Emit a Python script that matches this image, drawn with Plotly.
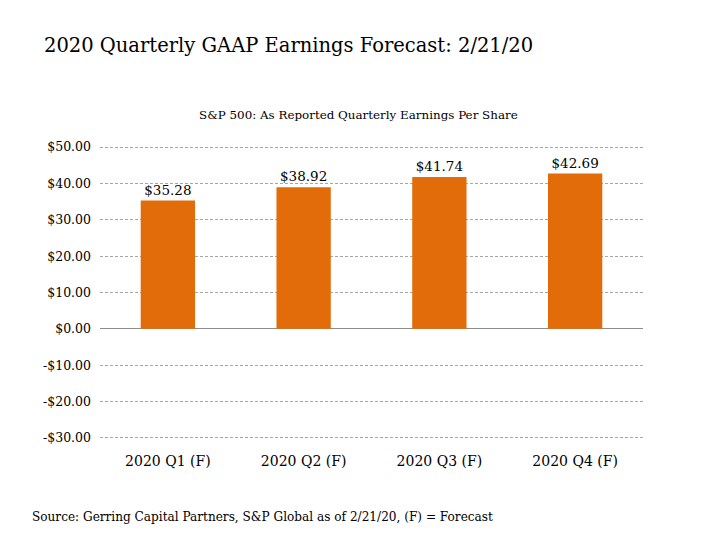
import plotly.graph_objects as go

categories = ["2020 Q1 (F)", "2020 Q2 (F)", "2020 Q3 (F)", "2020 Q4 (F)"]
eps = [35.28, 38.92, 41.74, 42.69]
tick_vals = [-30, -20, -10, 0, 10, 20, 30, 40, 50]
tick_text = ["-$30.00", "-$20.00", "-$10.00", "$0.00", "$10.00", "$20.00", "$30.00", "$40.00", "$50.00"]

FONT = "DejaVu Serif"
OFF = 8  # page body margin offset

L, R_EDGE, T, B_EDGE = 100 - OFF, 643 - OFF, 147 - OFF - 1, 438 - OFF + 1

fig = go.Figure(go.Bar(
    x=categories, y=eps,
    marker=dict(color="#E36C0A", line=dict(width=0)),
    width=0.4,
    text=[f"${v:.2f}" for v in eps],
    textposition="outside",
    textfont=dict(family=FONT, size=13.5, color="#000"),
    cliponaxis=False,
))

fig.update_layout(
    width=720, height=540,
    margin=dict(l=L, r=720 - R_EDGE, t=T, b=540 - B_EDGE),
    paper_bgcolor="white", plot_bgcolor="white",
    showlegend=False,
    font=dict(family=FONT, color="#000"),
    xaxis=dict(showgrid=False, showline=False, ticks="", tickfont=dict(size=14, family=FONT),
               ticklabelstandoff=12),
    yaxis=dict(range=[-30.28, 50.28], tickvals=tick_vals, ticktext=tick_text,
               showgrid=True, gridcolor="#a6a6a6", griddash="3px,2px", gridwidth=1,
               zeroline=True, zerolinecolor="#8c8c8c", zerolinewidth=1.3,
               showline=False, ticks="", tickfont=dict(size=12.5, family=FONT), ticklabelstandoff=8),
)

pw = R_EDGE - L
ph = B_EDGE - T

def ann(text, px, py, size, anchor):
    fig.add_annotation(text=text, x=(px - OFF - L) / pw, y=(B_EDGE - (py - OFF)) / ph,
                       xref="paper", yref="paper", showarrow=False,
                       font=dict(size=size, family=FONT, color="#000"),
                       xanchor=anchor, yanchor="middle")

ann("2020 Quarterly GAAP Earnings Forecast: 2/21/20", 42, 45, 19.5, "left")
ann("S&P 500: As Reported Quarterly Earnings Per Share", 358, 115, 11.9, "center")
ann("Source: Gerring Capital Partners, S&P Global as of 2/21/20, (F) = Forecast", 30, 517, 12.1, "left")

fig.write_html("out.html")
